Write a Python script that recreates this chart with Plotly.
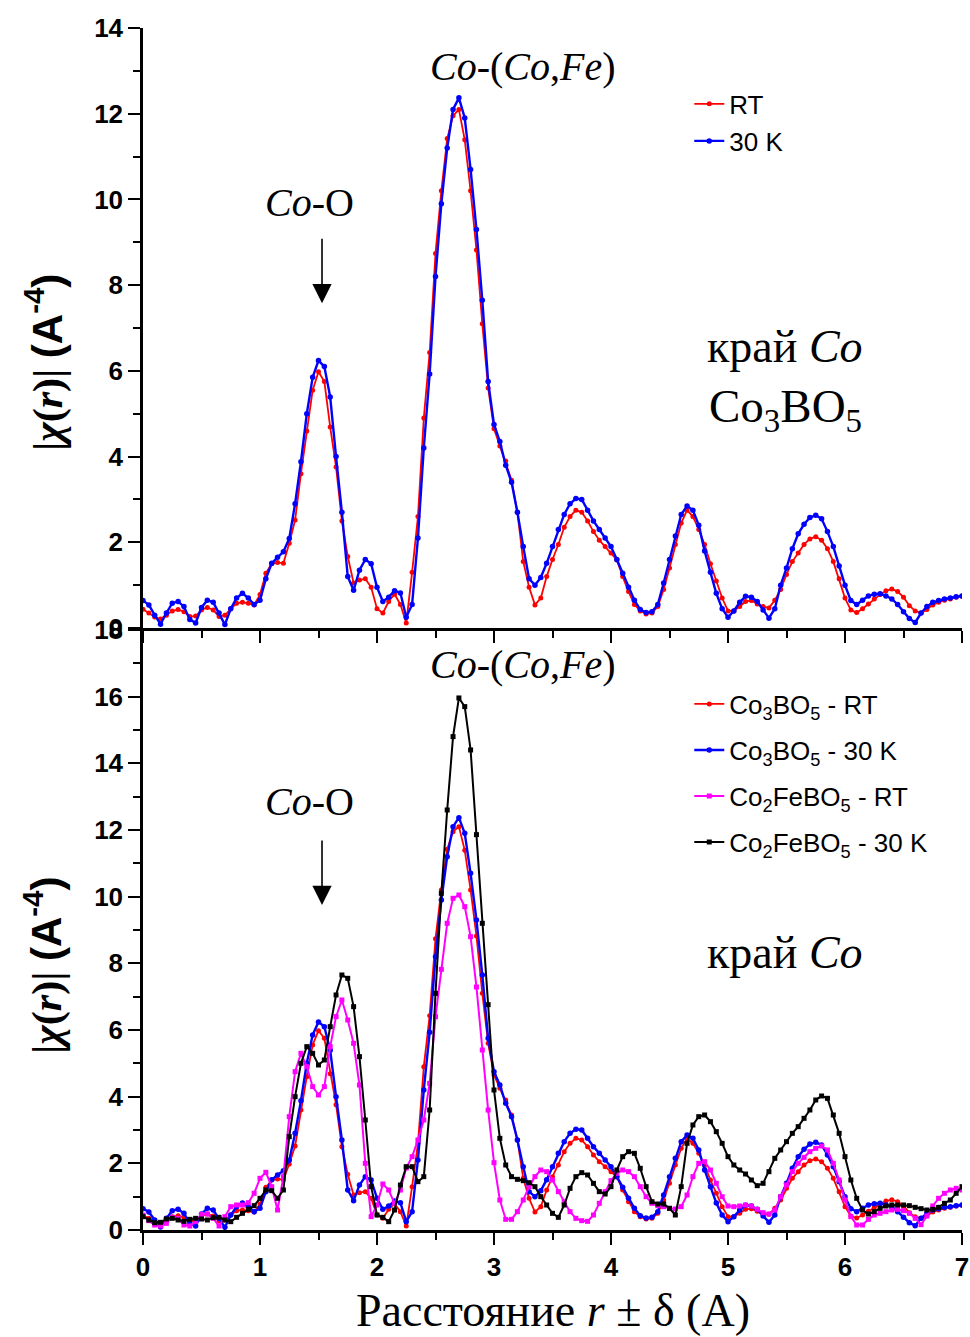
import plotly.graph_objects as go

# distance grid (Å), step 0.05
r = [round(i * 0.05, 2) for i in range(141)]

co3bo5_rt = [0.44,0.35,0.26,0.21,0.30,0.40,0.43,0.38,0.27,0.28,
             0.42,0.48,0.42,0.27,0.30,0.45,0.58,0.60,0.58,0.54,
             0.78,1.28,1.50,1.53,1.51,1.98,2.52,3.60,4.60,5.55,
             5.98,5.75,4.69,3.76,2.50,1.67,1.05,1.12,1.15,0.95,
             0.45,0.35,0.62,0.79,0.55,0.12,1.30,2.60,4.90,6.43,
             8.74,10.20,11.42,11.95,12.10,11.39,10.20,8.82,7.10,5.60,
             4.65,4.25,3.90,3.45,2.70,1.55,0.95,0.54,0.70,1.20,
             1.60,1.95,2.35,2.60,2.75,2.70,2.50,2.25,2.05,1.90,
             1.75,1.59,1.20,0.85,0.55,0.40,0.33,0.35,0.50,0.90,
             1.40,1.95,2.45,2.75,2.60,2.30,1.95,1.50,1.10,0.70,
             0.40,0.40,0.50,0.62,0.64,0.56,0.50,0.47,0.65,0.90,
             1.25,1.55,1.75,1.95,2.08,2.13,2.05,1.85,1.55,1.15,
             0.70,0.42,0.36,0.45,0.56,0.68,0.78,0.87,0.91,0.85,
             0.72,0.52,0.40,0.35,0.43,0.54,0.60,0.65,0.68,0.72,
             0.74]

co3bo5_30k = [0.64,0.54,0.30,0.09,0.35,0.58,0.62,0.50,0.20,0.12,
              0.48,0.65,0.60,0.35,0.08,0.45,0.70,0.81,0.70,0.55,
              0.65,1.15,1.51,1.65,1.78,2.09,2.90,3.88,5.00,5.85,
              6.24,6.10,5.39,4.00,2.70,1.20,0.88,1.35,1.60,1.50,
              0.95,0.62,0.72,0.87,0.82,0.25,0.55,2.10,4.20,5.93,
              8.20,9.90,11.20,12.10,12.37,11.90,10.70,9.30,7.65,5.75,
              4.75,4.35,3.80,3.40,2.70,1.90,1.15,1.00,1.18,1.51,
              1.90,2.30,2.65,2.90,3.02,3.00,2.75,2.50,2.30,2.10,
              1.90,1.60,1.28,0.95,0.65,0.43,0.36,0.38,0.55,1.05,
              1.60,2.15,2.65,2.85,2.75,2.40,1.80,1.30,0.81,0.45,
              0.25,0.40,0.60,0.74,0.72,0.62,0.42,0.23,0.45,1.00,
              1.40,1.85,2.20,2.42,2.58,2.63,2.55,2.25,1.90,1.45,
              1.00,0.64,0.55,0.65,0.75,0.79,0.80,0.75,0.68,0.55,
              0.38,0.22,0.13,0.35,0.50,0.60,0.64,0.68,0.70,0.73,
              0.75]

co2febo5_rt = [0.45,0.28,0.15,0.12,0.20,0.38,0.35,0.15,0.12,0.25,
               0.47,0.48,0.35,0.12,0.40,0.70,0.75,0.75,0.82,1.10,
               1.55,1.73,1.30,0.60,1.60,3.40,4.75,5.30,4.90,4.30,
               4.05,4.30,5.50,6.40,6.90,6.30,5.60,4.35,2.00,0.40,
               0.75,1.38,1.20,0.80,1.20,1.86,2.20,2.70,3.30,4.40,
               6.40,7.82,9.20,9.95,10.05,9.70,8.80,7.29,5.40,3.60,
               2.02,0.90,0.32,0.32,0.55,0.90,1.30,1.60,1.80,1.75,
               1.50,1.15,0.85,0.55,0.35,0.28,0.26,0.45,0.80,1.15,
               1.48,1.70,1.80,1.75,1.60,1.30,1.00,0.80,0.73,0.70,
               0.65,0.63,0.70,1.05,1.60,2.00,2.05,1.80,1.40,1.00,
               0.72,0.70,0.72,0.75,0.72,0.62,0.52,0.48,0.60,1.00,
               1.35,1.75,2.00,2.18,2.35,2.45,2.52,2.40,2.00,1.50,
               0.90,0.40,0.15,0.15,0.32,0.45,0.50,0.55,0.60,0.62,
               0.58,0.50,0.35,0.16,0.42,0.72,0.95,1.10,1.20,1.25,
               1.20]

co2febo5_30k = [0.40,0.30,0.22,0.23,0.33,0.35,0.30,0.26,0.32,0.35,
                0.33,0.30,0.37,0.38,0.30,0.25,0.38,0.50,0.62,0.73,
                0.95,1.20,1.18,0.95,1.20,2.80,4.00,5.00,5.50,5.30,
                4.95,5.10,6.10,7.05,7.65,7.55,6.70,5.20,3.30,1.30,
                0.45,0.38,0.25,0.60,1.35,1.90,1.90,1.45,1.60,3.60,
                7.10,10.10,12.60,14.80,15.96,15.70,14.40,11.86,9.20,6.76,
                4.20,2.75,1.95,1.60,1.52,1.48,1.42,1.30,1.00,0.75,
                0.50,0.38,0.75,1.25,1.60,1.72,1.65,1.40,1.15,1.08,
                1.30,1.80,2.20,2.35,2.30,1.85,1.30,0.85,0.78,0.78,
                0.65,0.45,1.30,2.60,3.15,3.40,3.45,3.25,2.95,2.60,
                2.20,1.95,1.80,1.68,1.50,1.33,1.40,1.75,2.15,2.40,
                2.65,2.90,3.10,3.35,3.60,3.90,4.02,3.95,3.45,2.90,
                2.20,1.50,0.95,0.60,0.48,0.55,0.65,0.72,0.75,0.75,
                0.75,0.73,0.68,0.64,0.60,0.62,0.68,0.80,0.90,1.10,
                1.30]

top_names = ["RT", "30 K"]
bottom_names = ["Co<sub>3</sub>BO<sub>5</sub> - RT", "Co<sub>3</sub>BO<sub>5</sub> - 30 K",
                "Co<sub>2</sub>FeBO<sub>5</sub> - RT", "Co<sub>2</sub>FeBO<sub>5</sub> - 30 K"]

RED, BLUE, MAG, BLK = "#ff0000", "#0000ff", "#ff00ff", "#000000"

fig = go.Figure()

def add(x, y, name, color, symbol, msize, lw, xa, ya, leg):
    fig.add_trace(go.Scatter(
        x=x, y=y, name=name, mode="lines+markers",
        line=dict(color=color, width=lw),
        marker=dict(color=color, symbol=symbol, size=msize),
        xaxis=xa, yaxis=ya, legend=leg))

# top panel
add(r, co3bo5_rt, top_names[0], RED, "circle", 5, 1.8, "x", "y", "legend")
add(r, co3bo5_30k, top_names[1], BLUE, "circle", 5.5, 2.4, "x", "y", "legend2")
# bottom panel
add(r, co3bo5_rt, bottom_names[0], RED, "circle", 5, 1.8, "x2", "y2", "legend3")
add(r, co3bo5_30k, bottom_names[1], BLUE, "circle", 5.5, 2.4, "x2", "y2", "legend4")
add(r, co2febo5_rt, bottom_names[2], MAG, "square", 5, 2.0, "x2", "y2", "legend5")
add(r, co2febo5_30k, bottom_names[3], BLK, "square", 5, 2.0, "x2", "y2", "legend6")

TICKFONT = dict(family="Liberation Sans", size=26, color="black", weight="bold")
SERIF = "Liberation Serif"

top_dom = [0.5008, 1.0]
bot_dom = [0.0, 0.4992]

common_x = dict(range=[0, 7], showline=True, linecolor="black", linewidth=2.5,
                ticks="outside", ticklen=12, tickwidth=2, tickcolor="black",
                dtick=1, tick0=0, showgrid=False, zeroline=False,
                minor=dict(dtick=0.5, ticklen=7, tickwidth=2, tickcolor="black", ticks="outside"))

def frame(overlay, anchor, side, rng, dt):
    return dict(overlaying=overlay, anchor=anchor, side=side, range=rng, showline=True,
                linecolor="black", linewidth=2.5, ticks="inside", ticklen=5, tickwidth=1.5,
                tickcolor="black", dtick=dt, tick0=0, showticklabels=False,
                showgrid=False, zeroline=False)

def legend_at(yc):
    return dict(x=0.667, y=yc, xanchor="left", yanchor="middle",
                bgcolor="rgba(0,0,0,0)", borderwidth=0,
                font=dict(family="Liberation Sans", size=26, color="black"),
                itemwidth=30, tracegroupgap=0)

fig.update_layout(
    width=970, height=1337,
    margin=dict(l=143, r=8, t=28, b=107, autoexpand=False),
    paper_bgcolor="white", plot_bgcolor="white",
    showlegend=True,
    xaxis=dict(**common_x, domain=[0, 1], anchor="y", showticklabels=False),
    xaxis2=dict(**common_x, domain=[0, 1], anchor="y2", showticklabels=True,
                tickfont=TICKFONT),
    yaxis=dict(domain=top_dom, anchor="x", range=[0, 14], dtick=2, tick0=0,
               showline=True, linecolor="black", linewidth=2.5,
               ticks="outside", ticklen=12, tickwidth=2, tickcolor="black",
               minor=dict(dtick=1, ticklen=7, tickwidth=2, tickcolor="black", ticks="outside"),
               tickfont=TICKFONT, showgrid=False, zeroline=False),
    yaxis2=dict(domain=bot_dom, anchor="x2", range=[0, 18], dtick=2, tick0=0,
                showline=True, linecolor="black", linewidth=2.5,
                ticks="outside", ticklen=12, tickwidth=2, tickcolor="black",
                minor=dict(dtick=1, ticklen=7, tickwidth=2, tickcolor="black", ticks="outside"),
                tickfont=TICKFONT, showgrid=False, zeroline=False),
    xaxis3=frame("x", "y", "top", [0, 7], 0.5),
    xaxis4=frame("x2", "y2", "top", [0, 7], 0.5),
    yaxis3=frame("y", "x", "right", [0, 14], 1),
    yaxis4=frame("y2", "x2", "right", [0, 18], 1),
    legend=legend_at(0.9368),
    legend2=legend_at(0.9060),
    legend3=legend_at(0.4376),
    legend4=legend_at(0.3993),
    legend5=legend_at(0.3610),
    legend6=legend_at(0.3228),
)

ytitle = ("|<i>χ</i>(<i>r</i>)| <span style='font-family:Liberation Sans'>(A<sup>-4</sup>)</span>")

ann = []
# y-axis titles
for yc in [0.7221, 0.2205]:
    ann.append(dict(xref="paper", yref="paper", x=-0.1209, y=yc, text="<b>" + ytitle + "</b>",
                    textangle=-90, showarrow=False, xanchor="center", yanchor="middle",
                    font=dict(family=SERIF, size=42, color="black")))
# x-axis title
ann.append(dict(xref="paper", yref="paper", x=0.5, y=-0.067,
                text="Расстояние <i>r</i> ± δ (A)", showarrow=False,
                xanchor="center", yanchor="middle",
                font=dict(family=SERIF, size=46, color="black")))

lab_font = dict(family=SERIF, size=40, color="black")
for xa, ya, y_cofe, y_coo, y_kray in [("x", "y", 13.11, 9.92, 6.56), ("x2", "y2", 16.95, 12.84, 8.31)]:
    ann.append(dict(xref=xa, yref=ya, x=3.25, y=y_cofe, text="<i>Co</i>-(<i>Co</i>,<i>Fe</i>)",
                    showarrow=False, font=lab_font, xanchor="center", yanchor="middle"))
    ann.append(dict(xref=xa, yref=ya, x=1.42, y=y_coo, text="<i>Co</i>-O",
                    showarrow=False, font=lab_font, xanchor="center", yanchor="middle"))
    ann.append(dict(xref=xa, yref=ya, x=5.49, y=y_kray, text="край <i>Co</i>",
                    showarrow=False, font=dict(family=SERIF, size=46, color="black"),
                    xanchor="center", yanchor="middle"))
ann.append(dict(xref="x", yref="y", x=5.49, y=5.09, text="Co<sub>3</sub>BO<sub>5</sub>",
                showarrow=False, font=dict(family=SERIF, size=47, color="black"),
                xanchor="center", yanchor="middle"))
# arrows
for xa, ya, tip, tail in [("x", "y", 7.58, 9.12), ("x2", "y2", 9.75, 11.73)]:
    ann.append(dict(xref=xa, yref=ya, axref=xa, ayref=ya, x=1.53, y=tip, ax=1.53, ay=tail,
                    text="", showarrow=True, arrowhead=2, arrowsize=2.4, arrowwidth=1.6,
                    arrowcolor="black"))
fig.update_layout(annotations=ann)

fig.write_html("out.html")
